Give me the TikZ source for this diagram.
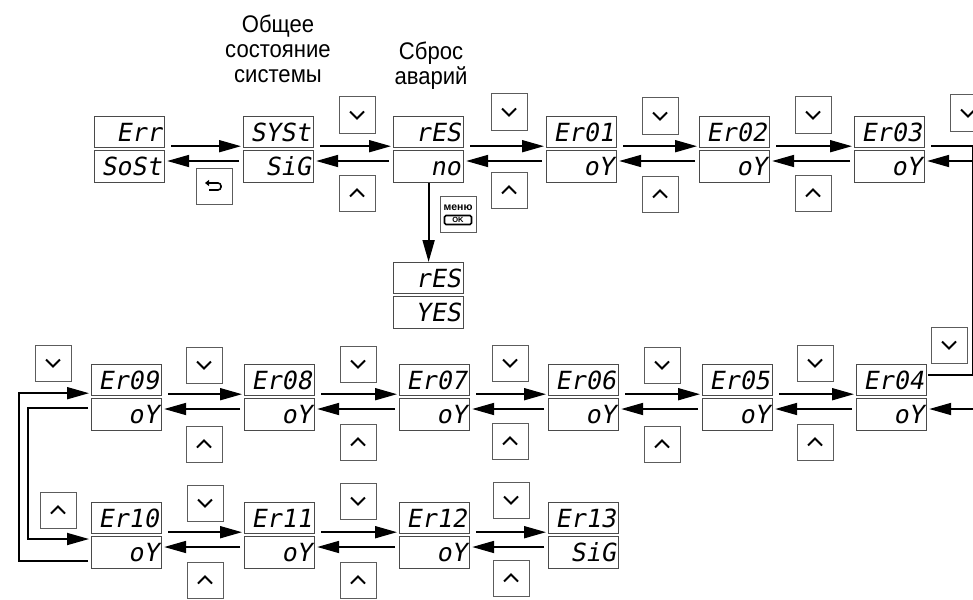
\documentclass[tikz,border=0pt]{standalone}
\usepackage{fontspec}
\setmainfont{Liberation Sans}
\newfontfamily\hdrfont[FakeStretch=0.92]{Liberation Sans}
\newfontfamily\segfont[FakeSlant=0.18]{DejaVu Sans Mono}
\usetikzlibrary{arrows.meta}
\definecolor{FrameGray}{HTML}{4A4A4A}
\definecolor{KeyGray}  {HTML}{5C5C5C}

\tikzset{
  lcd/.style={draw=FrameGray,line width=1.2pt,anchor=north west,
    inner xsep=3pt,inner ysep=0pt,text width=64pt,align=right,
    minimum height=31pt,text height=18pt,text depth=0pt,
    font=\segfont\fontsize{25}{25}\selectfont},
  keybox/.style={draw=KeyGray,line width=1pt,minimum width=36pt,
    minimum height=36pt,inner sep=0pt},
  chev/.style={line width=1.9pt,line join=miter},
  arr/.style={line width=1.8pt,-{Triangle[length=22pt,width=12pt]}},
  wire/.style={line width=1.8pt},
  hdr/.style={font=\hdrfont\fontsize{24}{25}\selectfont,align=center,
    inner sep=0pt,anchor=north},
}

\begin{document}
\begin{tikzpicture}[x=1pt,y=-1pt]
  \useasboundingbox (0,0) rectangle (973,599);

  % headers
  \node[hdr] (hsys) at (278,15) {Общее\\состояние\\системы};
  \node[hdr] (hrst) at (431,42) {Сброс\\аварий};

  % displays
  \foreach \nm/\x/\y/\ta/\tb in {err/94/116/Err/SoSt, syst/243/116/SYSt/SiG,
      res/393/116/rES/no, res2/393/262/rES/YES,
      e01/546/116/Er01/oY, e02/699/116/Er02/oY, e03/854/116/Er03/oY,
      e09/91/364/Er09/oY, e08/244/364/Er08/oY, e07/399/364/Er07/oY,
      e06/548/364/Er06/oY, e05/702/364/Er05/oY, e04/856/364/Er04/oY,
      e10/91/502/Er10/oY, e11/244/502/Er11/oY, e12/399/502/Er12/oY,
      e13/548/502/Er13/SiG}{
    \node[lcd] (\nm-t) at (\x,\y) {\ta};
    \node[lcd,minimum height=32pt] (\nm-b) at (\x,\y+34) {\tb};
  }

  % keys
  \foreach \k/\x/\y in {kd1/357/115, kd2/509/112, kd3/660/116, kd4/813/115,
      kd5/968/113, kd6/53/363, kd7/204/365, kd8/358/364, kd9/510/363,
      kd10/662/365, kd11/815/363, kd12/949/345, kd13/205/503, kd14/358/501,
      kd15/511/500}{
    \node[keybox] (\k) at (\x,\y) {};
    \draw[chev] ([xshift=-7pt,yshift=3.5pt]\k.center) -- ([yshift=-3.5pt]\k.center)
      -- ([xshift=7pt,yshift=3.5pt]\k.center);
  }
  \foreach \k/\x/\y in {ku1/357/193, ku2/509/190, ku3/660/194, ku4/813/193,
      ku5/204/444, ku6/358/442, ku7/510/441, ku8/662/444, ku9/815/442,
      ku10/58/510, ku11/205/580, ku12/358/580, ku13/511/578}{
    \node[keybox] (\k) at (\x,\y) {};
    \draw[chev] ([xshift=-7pt,yshift=-3.5pt]\k.center) -- ([yshift=3.5pt]\k.center)
      -- ([xshift=7pt,yshift=-3.5pt]\k.center);
  }
  \node[keybox] (kback) at (214,186) {};
  \draw[line width=1.6pt,rounded corners=3pt,-{Triangle[length=4pt,width=6pt]}]
    ([xshift=-5pt,yshift=-4pt]kback.center) -- ([xshift=7pt,yshift=-4pt]kback.center)
    -- ([xshift=7pt,yshift=3pt]kback.center) -- ([xshift=-9pt,yshift=3pt]kback.center);
  \node[keybox] (kmenu) at (458,214) {};
  \node[inner sep=0pt,font=\bfseries\fontsize{10.5}{10.5}\selectfont] (lmenu)
    at ([yshift=6pt]kmenu.center) {меню};
  \node[draw,line width=1.6pt,rounded corners=1.5pt,minimum width=27pt,
    minimum height=9pt,inner sep=0pt,font=\bfseries\fontsize{7.5}{7.5}\selectfont] (lok)
    at ([yshift=-6pt]kmenu.center) {OK};

  % transitions
  \foreach \a/\b in {err/syst, syst/res, res/e01, e01/e02, e02/e03,
      e09/e08, e08/e07, e07/e06, e06/e05, e05/e04, e10/e11, e11/e12, e12/e13}{
    \draw[arr] ([xshift=6pt,yshift=2pt]\a-t.south east) -- ([xshift=-2pt,yshift=2pt]\b-t.south west);
    \draw[arr] ([xshift=-4pt,yshift=-11pt]\b-b.north west) -- ([xshift=2pt,yshift=-11pt]\a-b.north east);
  }
  \draw[arr] (res-b.south) -- (res2-t.north);

  % right side
  \draw[wire] ([xshift=6pt,yshift=2pt]e03-t.south east) -- ++(42,0)
    |- ([xshift=1pt,yshift=5pt]e04-t.east);
  \draw[arr] ([xshift=49pt,yshift=-11pt]e03-b.north east) -- ([xshift=2pt,yshift=-11pt]e03-b.north east);
  \draw[arr] ([xshift=47pt,yshift=-11pt]e04-b.north east) -- ([xshift=2pt,yshift=-11pt]e04-b.north east);

  % left loop
  \draw[arr] ([xshift=-3pt,yshift=-8pt]e10-b.west) -- ++(-69,0)
    |- ([xshift=-2pt,yshift=3pt]e09-t.south west);
  \draw[arr] ([xshift=-3pt,yshift=-10pt]e09-b.north west) -- ++(-60,0)
    |- ([xshift=-2pt,yshift=-3pt]e10-b.north west);
\end{tikzpicture}
\end{document}
